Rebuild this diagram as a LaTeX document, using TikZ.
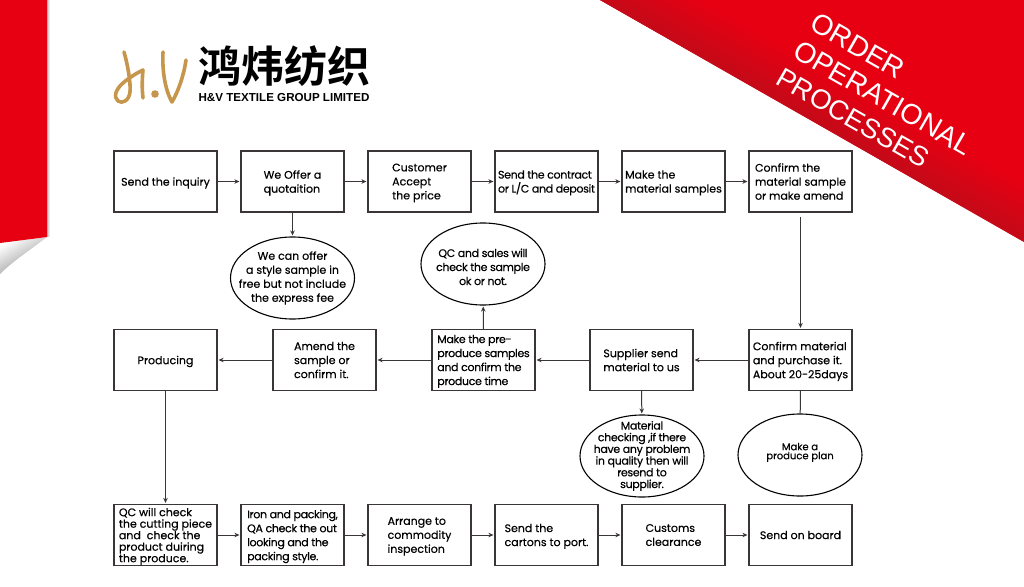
\documentclass[tikz,border=0pt]{standalone}
\usepackage{fontspec}
\setmainfont{Poppins}[FakeBold=0.35]
\newfontfamily\cjkbrush{Noto Sans CJK SC Bold}
\newfontfamily\arialfont{Liberation Sans}
\usetikzlibrary{shapes.geometric,arrows.meta}
\definecolor{brandred}{HTML}{E60012}
\definecolor{darkred}{HTML}{C40A18}
\definecolor{inkgray}{HTML}{3A3635}
\definecolor{logotan}{HTML}{C6964C}
\newcommand{\tightfont}{\addfontfeatures{LetterSpace=-3}}
\tikzset{
  flowbox/.style={draw=inkgray,line width=1.2pt,fill=white,minimum width=103pt,minimum height=61pt,inner sep=0pt,align=left,text=black,text depth=0pt,font=\fontsize{11}{14}\selectfont},
  flowoval/.style={ellipse,draw=black,line width=1.1pt,fill=white,minimum width=124pt,minimum height=82pt,inner xsep=-25pt,inner ysep=-20pt,align=center,text=black,font=\fontsize{11}{14}\selectfont},
  flowarrow/.style={draw=inkgray,line width=1pt,-{Stealth[length=5pt,width=4.5pt]},shorten >=1pt},
  flowline/.style={draw=inkgray,line width=1pt},
  titletext/.style={text=white,rotate=-29.8,inner sep=0pt,font=\arialfont\fontsize{28.5}{30}\selectfont},
  logostroke/.style={draw=logotan,line cap=round,line join=round,line width=3.6pt}
}
\begin{document}
\begin{tikzpicture}[x=1pt,y=-1pt]
\useasboundingbox (0,0) rectangle (1024,586);
\fill[white] (0,0) rectangle (1024,586);
% left ribbon
\shade[left color=black!25,right color=white] (47,0) rectangle (50,236);
\shade[top color=white,bottom color=black!45,shading angle=30] (0,243) -- (47,237) .. controls (30,250) and (12,262) .. (0,274) -- cycle;
\fill[brandred] (0,0) -- (47,0) -- (47,237) -- (0,243) -- cycle;
% top right banner
\begin{scope}
\clip (600,0) -- (1024,242) -- (1024,0) -- cycle;
\fill[brandred] (600,0) rectangle (1024,242);
\begin{scope}[transform canvas={shift={(600,0)},rotate=-29.7}]
\shade[top color=brandred,bottom color=darkred] (0,-50) rectangle (500,0);
\end{scope}
\end{scope}
\node[titletext] (t1) at (858,46) {ORDER};
\node[titletext] (t2) at (883,98) {OPERATIONAL};
\node[titletext,font=\arialfont\fontsize{27.5}{30}\selectfont] (t3) at (853,118) {PROCESSES};
% logo
\draw[logostroke] (124,52) .. controls (127,62) and (131,82) .. (130,92) .. controls (129,101) and (122,104) .. (118,101) .. controls (113,97) and (116,89) .. (123,83) .. controls (130,77) and (137,73) .. (143,70) .. controls (142,80) and (142,90) .. (143,98);
\fill[logotan] (155,94) circle (3.8);
\draw[logostroke] (163,52) .. controls (162,70) and (165,90) .. (172,102) .. controls (178,92) and (184,75) .. (186,60);
\node[inner sep=0pt,anchor=center,font=\cjkbrush\fontsize{43}{43}\selectfont] (logocn) at (284,66) {鸿炜纺织};
\node[inner sep=0pt,anchor=center,font=\arialfont\bfseries\fontsize{11.6}{14}\selectfont] (logoen) at (284,97.5) {H\&V TEXTILE GROUP LIMITED};
% row 1
\node[flowbox] (a1) at (165.5,181.5) {Send the inquiry};
\node[flowbox] (a2) at (292.5,181.5) {We Offer a\\quotaition};
\node[flowbox] (a3) at (419.5,181.5) {Customer\\Accept\\the price};
\node[flowbox] (a4) at (546.5,181.5) {\tightfont Send the contract\\\tightfont or L/C and deposit};
\node[flowbox] (a5) at (673.5,181.5) {Make the\\material samples};
\node[flowbox] (a6) at (800.5,181.5) {Confirm the\\material sample\\or make amend};
% row 2
\node[flowbox] (b1) at (165.5,360) {Producing};
\node[flowbox] (b2) at (324.5,360) {Amend the\\sample or\\confirm it.};
\node[flowbox] (b3) at (483.5,360) {\tightfont Make the pre-\\\tightfont produce samples\\\tightfont and confirm the\\\tightfont produce time};
\node[flowbox] (b4) at (641.5,360) {Supplier send\\material to us};
\node[flowbox] (b5) at (800.5,360) {Confirm material\\and purchase it.\\About 20-25days};
% row 3
\node[flowbox,font=\fontsize{11}{11.5}\selectfont] (c1) at (165.5,535) {QC will check\\the cutting piece\\and\ \ check the\\product duiring\\the produce.};
\node[flowbox] (c2) at (292.5,535) {\tightfont Iron and packing,\\\tightfont QA check the out\\\tightfont looking and the\\\tightfont packing style.};
\node[flowbox] (c3) at (419.5,535) {Arrange to\\commodity\\inspection};
\node[flowbox] (c4) at (546.5,535) {Send the\\cartons to port.};
\node[flowbox] (c5) at (673.5,535) {Customs\\clearance};
\node[flowbox] (c6) at (800.5,535) {Send on board};
% ovals
\node[flowoval] (o1) at (292.5,278) {We can offer\\a style sample in\\free but not include\\the express fee};
\node[flowoval,text height=42pt,text depth=0pt] (o2) at (483,264) {\tightfont QC and sales will\\\tightfont check the sample\\\tightfont ok or not.};
\node[flowoval,font=\fontsize{11}{11.7}\selectfont] (o3) at (642,456) {\tightfont Material\\\tightfont checking ,if there\\\tightfont have any problem\\\tightfont in quality then will\\\tightfont resend to\\\tightfont supplier.};
\node[flowoval,text depth=8pt,font=\fontsize{10}{9}\selectfont] (o4) at (800,455) {Make a\\produce plan};
% connectors
\draw[flowarrow] (a1) -- (a2);
\draw[flowarrow] (a2) -- (a3);
\draw[flowarrow] (a3) -- (a4);
\draw[flowarrow] (a4) -- (a5);
\draw[flowarrow] (a5) -- (a6);
\draw[flowarrow,shorten <=4pt] (a6) -- (b5);
\draw[flowarrow] (a2) -- (o1);
\draw[flowarrow] (b5) -- (b4);
\draw[flowarrow] (b4) -- (b3);
\draw[flowarrow] (b3) -- (b2);
\draw[flowarrow] (b2) -- (b1);
\draw[flowarrow] (b3) -- (o2);
\draw[flowarrow] (b4) -- (o3);
\draw[flowline] (b5) -- (o4);
\draw[flowarrow] (b1) -- (c1);
\draw[flowarrow] (c1) -- (c2);
\draw[flowarrow] (c2) -- (c3);
\draw[flowarrow] (c3) -- (c4);
\draw[flowarrow] (c4) -- (c5);
\draw[flowarrow] (c5) -- (c6);
\end{tikzpicture}
\end{document}
